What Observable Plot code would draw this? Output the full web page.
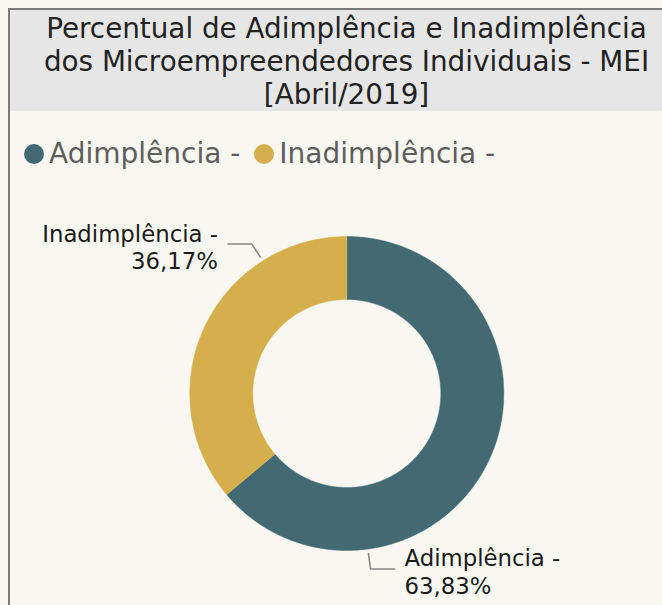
<!DOCTYPE html>
<html><head><meta charset="utf-8">
<script src="https://cdn.jsdelivr.net/npm/d3@7"></script>
<script src="https://cdn.jsdelivr.net/npm/@observablehq/plot@0.6"></script>
<style>
html,body{margin:0;padding:0;background:#f8f7f2;width:662px;height:605px;overflow:hidden;font-family:"DejaVu Sans",Verdana,sans-serif;}
#frame{position:absolute;left:8px;top:8px;width:720px;height:720px;border-left:2px solid #7a7a7a;border-top:2px solid #7a7a7a;}
#title{position:absolute;left:10px;top:10px;width:673px;height:101px;background:#e6e6e6;text-align:center;font-size:27.8px;line-height:33px;color:#222;padding-top:1.6px;box-sizing:border-box;white-space:nowrap;}
#legend{position:absolute;left:24px;top:138px;display:flex;align-items:center;font-size:28px;line-height:32px;color:#605e5c;white-space:nowrap;}
.item{display:flex;align-items:center;margin-right:14px;}
.sw{width:20px;height:20px;border-radius:50%;margin-right:5px;display:inline-block;}
#chart{position:absolute;left:0;top:180px;}
</style></head><body>
<div id="frame"></div>
<div id="title"></div>
<div id="legend"></div>
<div id="chart"></div>
<script>
// ---- data ----
const titleLines = ["Percentual de Adimplência e Inadimplência", "dos Microempreendedores Individuais - MEI", "[Abril/2019]"];
const categories = ["Adimplência", "Inadimplência"];
const values = [63.83, 36.17];
const valueLabels = ["63,83%", "36,17%"];
const colors = ["#436972", "#d4af4b"];

// ---- layout ----
const W = 662, H = 425;
const cx = 346.3, cy = 213, rOuter = 157, rInner = 94;
const labelAngleDeg = [172.3, 327.6];   // where the leader lines leave the ring
const leaderR0 = 161.5, leaderR1 = 177, leaderRun = 24, textGap = 10;

// title + legend
document.getElementById("title").innerHTML = titleLines.join("<br>");
const legend = document.getElementById("legend");
categories.forEach((c, i) => {
  const it = document.createElement("div"); it.className = "item";
  const sw = document.createElement("span"); sw.className = "sw"; sw.style.background = colors[i];
  const tx = document.createElement("span"); tx.textContent = c + " -";
  it.appendChild(sw); it.appendChild(tx); legend.appendChild(it);
});

// donut geometry from the values
const rows = categories.map((c, i) => ({category: c, value: values[i], label: valueLabels[i]}));
const arcs = d3.pie().sort(null).value(d => d.value)(rows);
const pt = (r, a) => ({x: cx + r * Math.sin(a), y: cy - r * Math.cos(a)});
const arcPts = [];
arcs.forEach(a => {
  const n = Math.max(8, Math.ceil((a.endAngle - a.startAngle) / 0.005));
  for (let k = 0; k <= n; k++) arcPts.push({category: a.data.category, ...pt(rOuter, a.startAngle + (a.endAngle - a.startAngle) * k / n)});
  for (let k = n; k >= 0; k--) arcPts.push({category: a.data.category, ...pt(rInner, a.startAngle + (a.endAngle - a.startAngle) * k / n)});
});

// leader lines + labels
const leaderPts = [], labelRows = [];
rows.forEach((d, i) => {
  const a = labelAngleDeg[i] * Math.PI / 180;
  const p0 = pt(leaderR0, a), p1 = pt(leaderR1, a);
  const dir = Math.sin(a) >= 0 ? 1 : -1;
  const p2 = {x: p1.x + dir * leaderRun, y: p1.y};
  [p0, p1, p2].forEach(p => leaderPts.push({category: d.category, ...p}));
  labelRows.push({category: d.category, x: p2.x + dir * textGap, y: p2.y + 2.5, text: d.category + " -\n" + d.label, side: dir});
});

const chart = Plot.plot({
  width: W, height: H, margin: 0,
  x: {domain: [0, W], range: [0, W], axis: null},
  y: {domain: [0, H], range: [0, H], axis: null},
  color: {domain: categories, range: colors},
  style: {background: "transparent", fontFamily: "DejaVu Sans, Verdana, sans-serif", overflow: "visible"},
  marks: [
    Plot.line(arcPts, {x: "x", y: "y", z: "category", fill: "category", stroke: "category", strokeWidth: 0.5, curve: "linear"}),
    Plot.line(leaderPts, {x: "x", y: "y", z: "category", stroke: "#858585", strokeWidth: 1.5, curve: "linear"}),
    Plot.text(labelRows.filter(d => d.side > 0), {x: "x", y: "y", text: "text", textAnchor: "start", fontSize: 22.8, lineHeight: 1.2, fill: "#1a1a1a"}),
    Plot.text(labelRows.filter(d => d.side < 0), {x: "x", y: "y", text: "text", textAnchor: "end", fontSize: 22.8, lineHeight: 1.2, fill: "#1a1a1a"})
  ]
});
document.getElementById("chart").appendChild(chart);
</script>
</body></html>
